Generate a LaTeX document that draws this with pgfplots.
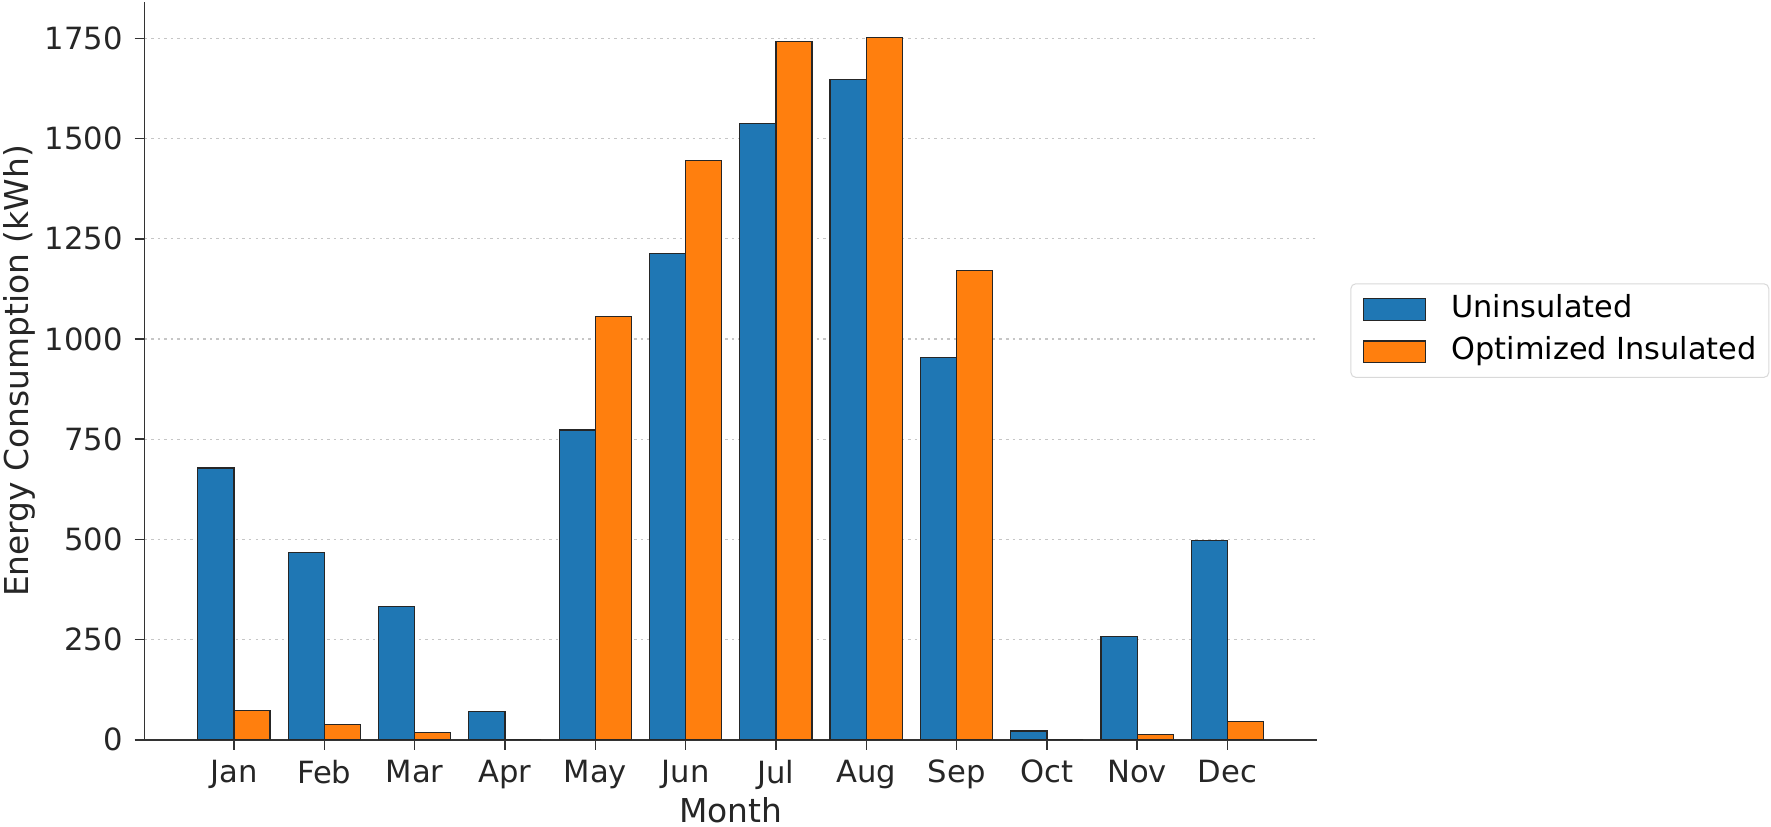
\documentclass[border=0pt]{standalone}
\usepackage{pgfplots}
\pgfplotsset{compat=1.18}
\usepackage{fontspec}
\setmainfont{DejaVu Sans}
\definecolor{mplblue}{HTML}{1F77B4}
\definecolor{mplorange}{HTML}{FF7F0E}
\definecolor{spine}{HTML}{333333}
\begin{document}
\begin{tikzpicture}
\useasboundingbox (-57.6pt,-34.65pt) rectangle (648pt,294.75pt);
\begin{axis}[
  scale only axis,
  width=467.1pt, height=293.85pt,
  ybar=0pt, bar width=0.4,
  xmin=-0.99, xmax=11.99,
  ymin=0, ymax=1840,
  xtick={0,1,2,3,4,5,6,7,8,9,10,11},
  xticklabels={Jan,Feb,Mar,Apr,May,Jun,Jul,Aug,Sep,Oct,Nov,Dec},
  ytick={0,250,500,750,1000,1250,1500,1750},
  /pgf/number format/assume math mode=true,
  /pgf/number format/1000 sep={},
  tick label style={font=\fontsize{12.2}{14}\selectfont, text=black!85},
  xticklabel style={yshift=-0.6pt},
  yticklabel style={xshift=-1.2pt},
  tick align=outside,
  major tick length=4pt,
  tick style={spine, line width=0.6pt},
  axis x line*=bottom, axis y line*=left,
  axis line style={-, spine, line width=0.7pt},
  ymajorgrids,
  major grid style={gray!45, line width=0.5pt, dash pattern=on 1pt off 1.6pt},
  xlabel={Month},
  ylabel={Energy Consumption (kWh)},
  label style={font=\fontsize{13.1}{15}\selectfont, text=black!85},
  xlabel style={at={(axis description cs:0.5,-0.095)}, anchor=center, inner sep=0pt},
  ylabel style={at={(axis description cs:-0.107,0.5)}, anchor=center, inner sep=0pt},
  legend style={at={(axis description cs:1,0.619)}, anchor=north west, xshift=13.3pt,
    draw=gray!30, rounded corners=2pt, font=\fontsize{12.1}{14}\selectfont,
    inner xsep=4.8pt, inner ysep=4.4pt, row sep=5.3pt,
    nodes={inner xsep=0pt, inner ysep=0pt, text height=9pt, text depth=2.6pt}},
  legend cell align=left,
  legend image code/.code={\draw[#1, sharp corners] (0pt,-4.3pt) rectangle (24.6pt,4.3pt);
    \path (34.8pt,0pt);},
]
\addplot[fill=mplblue, draw=black!85, line width=0.5pt] coordinates {
 (0,678) (1,468) (2,332) (3,70) (4,773) (5,1214) (6,1537) (7,1648) (8,953) (9,22) (10,257) (11,498)};
\addplot[fill=mplorange, draw=black!85, line width=0.5pt] coordinates {
 (0,73) (1,39) (2,19) (3,0) (4,1056) (5,1446) (6,1742) (7,1752) (8,1170) (9,0) (10,14) (11,46)};
\legend{Uninsulated, Optimized Insulated}
\end{axis}
\end{tikzpicture}
\end{document}
